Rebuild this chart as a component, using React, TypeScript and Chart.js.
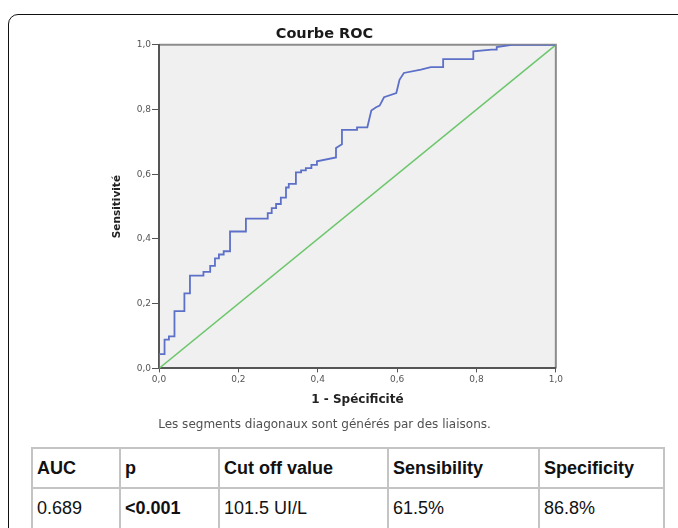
import React, { useEffect, useRef } from 'react';
import { Chart, registerables } from 'chart.js';

Chart.register(...registerables);

// ROC curve vertices (1 - specificity, sensitivity)
const fpr = [
  0, 0, 0.014, 0.014, 0.025, 0.025, 0.039, 0.039, 0.064, 0.064, 0.078, 0.078,
  0.112, 0.112, 0.129, 0.129, 0.141, 0.141, 0.151, 0.151, 0.163, 0.163, 0.179, 0.179,
  0.219, 0.219, 0.274, 0.274, 0.284, 0.284, 0.295, 0.295, 0.307, 0.307, 0.320, 0.320,
  0.327, 0.327, 0.345, 0.345, 0.358, 0.358, 0.370, 0.370, 0.384, 0.384, 0.398, 0.398,
  0.446, 0.446, 0.461, 0.461, 0.499, 0.499, 0.525, 0.535, 0.547, 0.556, 0.567, 0.598,
  0.602, 0.606, 0.617, 0.660, 0.685, 0.716, 0.716, 0.792, 0.792, 0.838, 0.851, 0.851,
  0.889, 1,
];
const tpr = [
  0, 0.044, 0.044, 0.089, 0.089, 0.099, 0.099, 0.177, 0.177, 0.232, 0.232, 0.287,
  0.287, 0.298, 0.298, 0.317, 0.317, 0.340, 0.340, 0.352, 0.352, 0.362, 0.362, 0.423,
  0.423, 0.463, 0.463, 0.480, 0.480, 0.495, 0.495, 0.508, 0.508, 0.528, 0.528, 0.559,
  0.559, 0.570, 0.570, 0.606, 0.606, 0.612, 0.612, 0.619, 0.619, 0.629, 0.629, 0.640,
  0.652, 0.681, 0.693, 0.737, 0.737, 0.745, 0.745, 0.797, 0.807, 0.812, 0.838, 0.851,
  0.871, 0.892, 0.913, 0.923, 0.931, 0.931, 0.956, 0.956, 0.980, 0.985, 0.985, 0.993,
  1.0, 1.0,
];
const refX = [0, 1];
const refY = [0, 1];
const tickValues = [0, 0.2, 0.4, 0.6, 0.8, 1.0];

const chartTitle = 'Courbe ROC';
const xTitle = '1 - Spécificité';
const yTitle = 'Sensitivité';
const footnote = 'Les segments diagonaux sont générés par des liaisons.';

const tableHeader = ['AUC', 'p', 'Cut off value', 'Sensibility', 'Specificity'];
const tableRow = ['0.689', '<0.001', '101.5 UI/L', '61.5%', '86.8%'];
const boldCells = [false, true, false, false, false];
const colWidths = [88, 99, 169, 151, 125];

const fmt = (v: any) => Number(v).toFixed(1).replace('.', ',');

const plotFrame = {
  id: 'plotFrame',
  beforeDraw(chart: any) {
    const { ctx, chartArea: a } = chart;
    ctx.save();
    ctx.fillStyle = '#f0f0f0';
    ctx.fillRect(a.left, a.top, a.right - a.left, a.bottom - a.top);
    ctx.strokeStyle = '#8c8c8c';
    ctx.lineWidth = 2;
    ctx.beginPath();
    ctx.moveTo(a.left, a.top);
    ctx.lineTo(a.right, a.top);
    ctx.lineTo(a.right, a.bottom);
    ctx.stroke();
    ctx.restore();
  },
};

const CANVAS_LEFT = 91.5;
const CANVAS_W = 473;
const CANVAS_H = 416;

function RocChart() {
  const ref = useRef<HTMLCanvasElement | null>(null);
  useEffect(() => {
    if (!ref.current) return;
    Chart.defaults.font.family = '"DejaVu Sans", sans-serif';
    const curve = fpr.map((x, i) => ({ x, y: tpr[i] }));
    const diag = refX.map((x, i) => ({ x, y: refY[i] }));
    const tickSetter = (s: any) => {
      s.ticks = tickValues.map((v) => ({ value: v }));
    };
    const chart = new Chart(ref.current, {
      type: 'scatter',
      data: {
        datasets: [
          {
            data: curve,
            showLine: true,
            borderColor: '#5d70c8',
            borderWidth: 1.8,
            pointRadius: 0,
            tension: 0,
          },
          {
            data: diag,
            showLine: true,
            borderColor: '#6cc66c',
            borderWidth: 1.5,
            pointRadius: 0,
          },
        ],
      },
      options: {
        animation: false,
        responsive: false,
        devicePixelRatio: 1,
        layout: { padding: { left: 0, right: 8, top: 0, bottom: 0 } },
        plugins: {
          legend: { display: false },
          tooltip: { enabled: false },
          title: {
            display: true,
            text: chartTitle,
            color: '#1a1a1a',
            font: { size: 14.5, weight: 'bold' },
            padding: { top: 6, bottom: 1.4 },
          },
          subtitle: {
            display: true,
            position: 'bottom',
            text: footnote,
            color: '#505050',
            font: { size: 12 },
            padding: { top: 10.6, bottom: 4.4 },
          },
        },
        scales: {
          x: {
            type: 'linear',
            min: 0,
            max: 1,
            afterBuildTicks: tickSetter,
            ticks: { callback: fmt, color: '#555', font: { size: 9 }, padding: 2, maxRotation: 0 },
            grid: { drawOnChartArea: false, drawTicks: true, tickLength: 4, color: '#555' },
            border: { color: '#555', width: 2 },
            title: {
              display: true,
              text: xTitle,
              color: '#222',
              font: { size: 12, weight: 'bold' },
              padding: { top: 5, bottom: 0 },
            },
          },
          y: {
            type: 'linear',
            min: 0,
            max: 1,
            afterBuildTicks: tickSetter,
            afterFit: (s: any) => {
              s.width = 158.5 - CANVAS_LEFT;
            },
            ticks: { callback: fmt, color: '#555', font: { size: 9 }, padding: 1 },
            grid: { drawOnChartArea: false, drawTicks: true, tickLength: 7, color: '#555' },
            border: { color: '#555', width: 2 },
            title: {
              display: true,
              text: yTitle,
              color: '#222',
              font: { size: 10.5, weight: 'bold' },
              padding: { top: 117 - CANVAS_LEFT - 6.3, bottom: 0 },
            },
          },
        },
      } as any,
      plugins: [plotFrame],
    });
    return () => chart.destroy();
  }, []);
  return (
    <canvas
      ref={ref}
      width={CANVAS_W}
      height={CANVAS_H}
      style={{ position: 'absolute', left: CANVAS_LEFT, top: 20, width: CANVAS_W, height: CANVAS_H }}
    />
  );
}

export default function App() {
  const cell = (bold: boolean): React.CSSProperties => ({
    border: '2px solid #c4c4c4',
    padding: '0 0 0 4px',
    fontWeight: bold ? 'bold' : 'normal',
    verticalAlign: 'middle',
    whiteSpace: 'nowrap',
  });
  return (
    <div
      style={{
        position: 'absolute',
        left: 0,
        top: 0,
        width: 678,
        height: 528,
        overflow: 'hidden',
        background: '#fff',
      }}
    >
      <div
        style={{
          position: 'absolute',
          left: 8,
          top: 14,
          width: 720,
          height: 600,
          border: '1px solid #111',
          borderRadius: 10,
        }}
      />
      <RocChart />
      <table
        style={{
          position: 'absolute',
          left: 31,
          top: 447,
          borderCollapse: 'collapse',
          tableLayout: 'fixed',
          width: 632,
          fontFamily: '"Liberation Sans", Arial, sans-serif',
          fontSize: 18,
          color: '#111',
        }}
      >
        <colgroup>
          {colWidths.map((w, i) => (
            <col key={i} style={{ width: w }} />
          ))}
        </colgroup>
        <tbody>
          <tr style={{ height: 40 }}>
            {tableHeader.map((h, i) => (
              <td key={i} style={cell(true)}>
                {h}
              </td>
            ))}
          </tr>
          <tr style={{ height: 41 }}>
            {tableRow.map((v, i) => (
              <td key={i} style={cell(boldCells[i])}>
                {v}
              </td>
            ))}
          </tr>
        </tbody>
      </table>
    </div>
  );
}
